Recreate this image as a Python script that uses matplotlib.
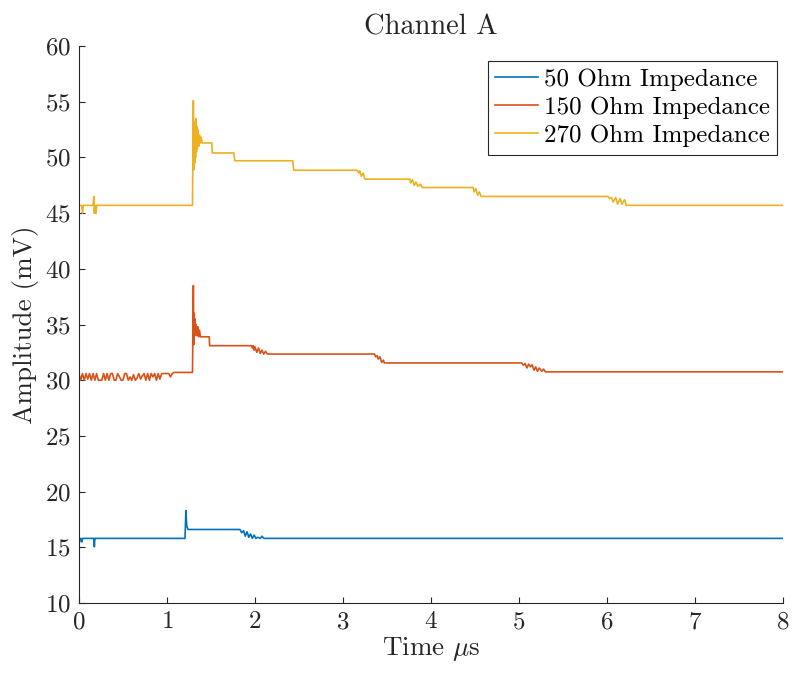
import numpy as np
import matplotlib
matplotlib.use("Agg")
import matplotlib.pyplot as plt

# 50 Ohm trace (time in us, amplitude in mV)
t_50 = [0.0, 0.02, 0.025, 0.035, 0.04, 0.17, 0.175, 0.18, 0.185, 1.205, 1.215,
        1.225, 1.24, 1.83, 1.85, 1.87, 1.89, 1.91, 1.93, 1.95, 1.97, 1.99,
        2.01, 2.03, 2.06, 2.08, 2.10, 2.12, 8.0]
mv_50 = [15.8, 15.8, 15.5, 15.5, 15.8, 15.8, 15.05, 15.8, 15.8, 15.8, 18.3,
         16.9, 16.6, 16.6, 16.3, 16.5, 16.0, 16.4, 15.9, 16.2, 15.8, 16.1,
         15.8, 15.9, 15.8, 16.0, 15.8, 15.8, 15.8]

# 150 Ohm: noisy baseline sampled every 0.02 us, then the rest of the trace
noise_150 = [30.6, 30.0, 30.6, 30.0, 30.6, 30.1, 30.6, 30.0, 30.6, 30.0,
             30.6, 30.0, 30.0, 30.0, 30.6, 30.0, 30.6, 30.0, 30.6, 30.6,
             30.0, 30.0, 30.6, 30.3, 30.0, 30.0, 30.6, 30.6, 30.0, 30.3,
             30.0, 30.5, 30.0, 30.2, 30.6, 30.1, 30.4, 30.6, 30.0, 30.6,
             30.0, 30.6, 30.3, 30.6, 30.0, 30.6, 30.1, 30.6, 30.6, 30.6,
             30.6, 30.6, 30.3, 30.6, 30.7, 30.7]
t_150 = [1.29, 1.30, 1.305, 1.31, 1.315, 1.32, 1.325, 1.33, 1.34, 1.35, 1.36,
         1.37, 1.38, 1.48, 1.485, 1.96, 1.97, 1.98, 1.99, 2.00, 2.02, 2.04,
         2.06, 2.08, 2.10, 2.12, 2.14, 3.36, 3.37, 3.39, 3.40, 3.42, 3.44,
         3.46, 3.47, 5.03, 5.05, 5.07, 5.09, 5.11, 5.13, 5.15, 5.17, 5.19,
         5.21, 5.23, 5.26, 5.28, 5.30, 8.0]
mv_150 = [30.7, 38.5, 33.2, 36.0, 34.0, 35.5, 34.2, 35.0, 34.0, 34.8, 33.9,
          34.5, 33.9, 33.9, 33.1, 33.1, 32.9, 33.1, 32.7, 33.0, 32.5, 32.9,
          32.4, 32.7, 32.35, 32.6, 32.35, 32.35, 32.1, 32.2, 31.9, 32.1, 31.6,
          31.8, 31.55, 31.55, 31.35, 31.5, 31.1, 31.45, 31.2, 31.4, 30.9, 31.2,
          30.8, 31.1, 30.8, 31.0, 30.75, 30.75]

# 270 Ohm trace
t_270 = [0.0, 0.03, 0.04, 0.05, 0.16, 0.17, 0.175, 0.18, 0.185, 0.19, 0.195,
         0.20, 1.29, 1.30, 1.305, 1.31, 1.315, 1.32, 1.325, 1.33, 1.335, 1.34,
         1.345, 1.35, 1.36, 1.37, 1.38, 1.39, 1.40, 1.51, 1.515, 1.76, 1.77,
         2.43, 2.44, 3.16, 3.18, 3.19, 3.21, 3.23, 3.25, 3.76, 3.77, 3.79,
         3.81, 3.83, 3.85, 3.88, 3.90, 4.48, 4.49, 4.51, 4.53, 4.55, 4.57,
         6.01, 6.03, 6.05, 6.07, 6.10, 6.12, 6.15, 6.17, 6.20, 6.22, 8.0]
mv_270 = [45.7, 45.7, 45.0, 45.7, 45.7, 46.5, 45.0, 45.7, 45.0, 45.3, 45.0,
          45.7, 45.7, 55.1, 48.9, 52.8, 49.5, 53.2, 50.0, 53.5, 50.5, 52.8,
          50.8, 52.5, 51.0, 52.0, 51.3, 51.8, 51.3, 51.3, 50.4, 50.4, 49.7,
          49.7, 48.85, 48.85, 48.6, 48.8, 48.3, 48.6, 48.05, 48.05, 47.7, 48.0,
          47.5, 47.8, 47.4, 47.6, 47.3, 47.3, 46.9, 47.2, 46.6, 46.9, 46.5,
          46.5, 46.3, 46.4, 46.0, 46.4, 45.8, 46.3, 45.8, 46.2, 45.7, 45.7]

labels = ["50 Ohm Impedance", "150 Ohm Impedance", "270 Ohm Impedance"]
colors = ["#0072BD", "#D95319", "#EDB120"]

t_noise = np.linspace(0.0, 1.1, len(noise_150))
t150_all = np.concatenate([t_noise, t_150])
mv150_all = np.concatenate([noise_150, mv_150])

plt.rcParams["font.family"] = "serif"
plt.rcParams["font.serif"] = ["cmr10"]
plt.rcParams["mathtext.fontset"] = "cm"
plt.rcParams["axes.formatter.use_mathtext"] = True

fig = plt.figure(figsize=(7.92, 6.73), dpi=100)
ax = fig.add_axes([0.0997, 0.104, 0.8889, 0.8276])

ax.plot(t_50, mv_50, color=colors[0], lw=1.2, label=labels[0])
ax.plot(t150_all, mv150_all, color=colors[1], lw=1.2, label=labels[1])
ax.plot(t_270, mv_270, color=colors[2], lw=1.2, label=labels[2])

ax.set_xlim(0, 8)
ax.set_ylim(10, 60)
ax.set_xticks(range(0, 9))
ax.set_yticks(range(10, 61, 5))

for s in ["top", "right"]:
    ax.spines[s].set_visible(False)
for s in ["left", "bottom"]:
    ax.spines[s].set_color("#262626")
    ax.spines[s].set_linewidth(0.8)
ax.tick_params(direction="in", length=4, width=0.8, colors="#262626",
               labelsize=18, pad=6)

ax.set_title("Channel A", fontsize=20.5, color="#262626", pad=8)
ax.set_xlabel(r"Time $\mu$s", fontsize=19.5, color="#262626", labelpad=1)
ax.set_ylabel("Amplitude (mV)", fontsize=19.5, color="#262626", labelpad=4)

leg = ax.legend(loc="upper right", bbox_to_anchor=(0.992, 0.973), fontsize=18,
                frameon=True, fancybox=False, framealpha=1, edgecolor="#262626",
                handlelength=1.7, handletextpad=0.25, borderpad=0.3,
                labelspacing=0.22, borderaxespad=0)
leg.get_frame().set_linewidth(0.8)

fig.savefig("out.png", dpi=100)
